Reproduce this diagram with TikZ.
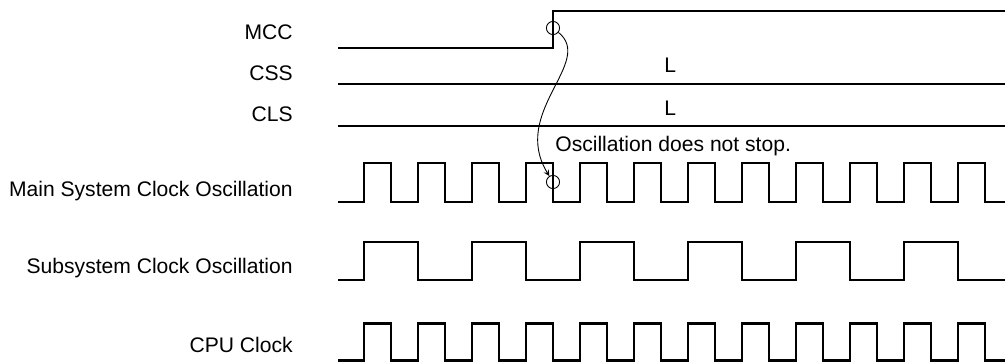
\documentclass[tikz,border=0pt]{standalone}
\usepackage{fontspec}
\setmainfont{Liberation Sans}
\tikzset{
  signal/.style={line width=1.3pt},
  sigtext/.style={anchor=base east, inner sep=0pt, font=\fontsize{12}{14}\selectfont},
  note/.style={anchor=base west, inner sep=0pt, font=\fontsize{12}{14}\selectfont},
  mark circle/.style={circle, draw, line width=0.5pt, inner sep=0pt, minimum size=7.5pt}
}
\begin{document}
\begin{tikzpicture}[x=0.02cm, y=-0.02cm, >=stealth]
    \useasboundingbox (0,0) rectangle (1005,362);

    % Signal names
    \node[sigtext] (mcc)  at (293,39)  {MCC};
    \node[sigtext] (css)  at (293,80)  {CSS};
    \node[sigtext] (cls)  at (293,121) {CLS};
    \node[sigtext] (mainosc) at (293,196) {Main System Clock Oscillation};
    \node[sigtext] (subosc)  at (293,273) {Subsystem Clock Oscillation};
    \node[sigtext] (cpuclk)  at (293,352) {CPU Clock};

    % MCC goes high
    \draw[signal] (338,48) -- (553,48) -- (553,11) -- (1005,11);

    % CSS and CLS stay low
    \draw[signal] (338,84) -- (1005,84);
    \node[note] (cssval) at (664,72.5) {L};
    \draw[signal] (338,126) -- (1005,126);
    \node[note] (clsval) at (664,115) {L};

    % Main system clock
    \draw[signal] (338,202) -- ++(26,0)
        -- ++(0,-39) -- ++(27,0) -- ++(0,39) -- ++(27,0)
        -- ++(0,-39) -- ++(27,0) -- ++(0,39) -- ++(27,0)
        -- ++(0,-39) -- ++(27,0) -- ++(0,39) -- ++(27,0)
        -- ++(0,-39) -- ++(27,0) -- ++(0,39) -- ++(27,0)
        -- ++(0,-39) -- ++(27,0) -- ++(0,39) -- ++(27,0)
        -- ++(0,-39) -- ++(27,0) -- ++(0,39) -- ++(27,0)
        -- ++(0,-39) -- ++(27,0) -- ++(0,39) -- ++(27,0)
        -- ++(0,-39) -- ++(27,0) -- ++(0,39) -- ++(27,0)
        -- ++(0,-39) -- ++(27,0) -- ++(0,39) -- ++(27,0)
        -- ++(0,-39) -- ++(27,0) -- ++(0,39) -- ++(27,0)
        -- ++(0,-39) -- ++(27,0) -- ++(0,39) -- ++(27,0)
        -- ++(0,-39) -- ++(27,0) -- ++(0,39) -- (1005,202);

    % Subsystem clock
    \draw[signal] (338,280) -- ++(26,0)
        -- ++(0,-38) -- ++(54,0) -- ++(0,38) -- ++(54,0)
        -- ++(0,-38) -- ++(54,0) -- ++(0,38) -- ++(54,0)
        -- ++(0,-38) -- ++(54,0) -- ++(0,38) -- ++(54,0)
        -- ++(0,-38) -- ++(54,0) -- ++(0,38) -- ++(54,0)
        -- ++(0,-38) -- ++(54,0) -- ++(0,38) -- ++(54,0)
        -- ++(0,-38) -- ++(54,0) -- ++(0,38) -- (1005,280);

    % CPU clock
    \draw[signal] (338,360.5) -- ++(26,0)
        -- ++(0,-37) -- ++(27,0) -- ++(0,37) -- ++(27,0)
        -- ++(0,-37) -- ++(27,0) -- ++(0,37) -- ++(27,0)
        -- ++(0,-37) -- ++(27,0) -- ++(0,37) -- ++(27,0)
        -- ++(0,-37) -- ++(27,0) -- ++(0,37) -- ++(27,0)
        -- ++(0,-37) -- ++(27,0) -- ++(0,37) -- ++(27,0)
        -- ++(0,-37) -- ++(27,0) -- ++(0,37) -- ++(27,0)
        -- ++(0,-37) -- ++(27,0) -- ++(0,37) -- ++(27,0)
        -- ++(0,-37) -- ++(27,0) -- ++(0,37) -- ++(27,0)
        -- ++(0,-37) -- ++(27,0) -- ++(0,37) -- ++(27,0)
        -- ++(0,-37) -- ++(27,0) -- ++(0,37) -- ++(27,0)
        -- ++(0,-37) -- ++(27,0) -- ++(0,37) -- ++(27,0)
        -- ++(0,-37) -- ++(27,0) -- ++(0,37) -- (1005,360.5);

    % MCC edge does not stop the main clock
    \node[mark circle] (mccedge)  at (553,28)  {};
    \node[mark circle] (mainedge) at (553,182) {};
    \draw[->, line width=0.5pt] (mccedge) .. controls (595,62) and (510,112) .. (mainedge);
    \node[note] (stopnote) at (555,151.5) {Oscillation does not stop.};
\end{tikzpicture}
\end{document}
